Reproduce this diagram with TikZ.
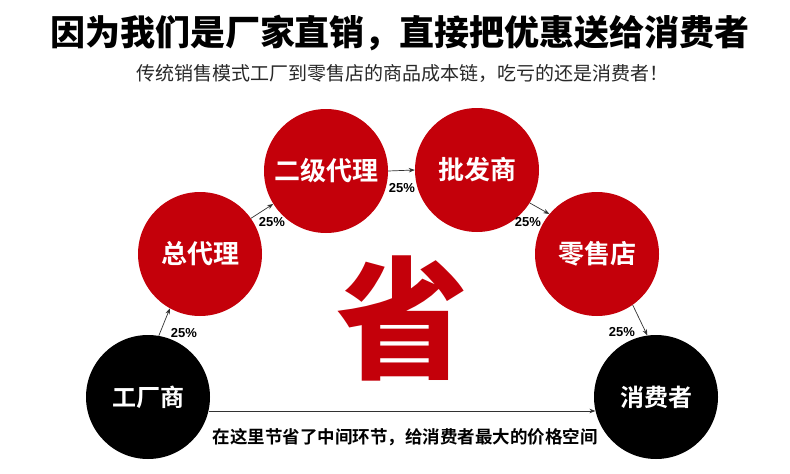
\documentclass[tikz,border=0pt]{standalone}
\usepackage{fontspec}
\usetikzlibrary{arrows.meta}
\setmainfont{Liberation Sans}
\newfontfamily\cjk{Noto Sans CJK SC}
\newfontfamily\cjkbold{Noto Sans CJK SC Bold}
\newfontfamily\cjkblack{Noto Sans CJK SC Black}
\definecolor{circred}{RGB}{196,0,10}
\definecolor{subgray}{RGB}{40,40,40}
\definecolor{arrgray}{RGB}{50,50,50}
\tikzset{
  redc/.style={circle,fill=circred,minimum size=124pt,inner sep=0pt,text=white,font=\cjkbold\fontsize{26}{26}\selectfont},
  blackc/.style={circle,fill=black,minimum size=124pt,inner sep=0pt,text=white,font=\cjkbold\fontsize{24}{24}\selectfont},
  conn/.style={draw=arrgray,line width=0.7pt,-{Stealth[length=6pt,width=4.5pt]}},
  pct/.style={font=\bfseries\fontsize{13}{13}\selectfont,inner sep=0pt}
}
\begin{document}
\begin{tikzpicture}[x=1pt,y=-1pt]
\path[use as bounding box,fill=white] (0,0) rectangle (790,474);
% titles
\node[font=\cjkblack\fontsize{35}{35}\selectfont,inner sep=0pt] (title) at (400,33) {因为我们是厂家直销，直接把优惠送给消费者};
\node[font=\cjk\fontsize{19}{19}\selectfont,text=subgray,inner sep=0pt] (sub) at (402,73) {传统销售模式工厂到零售店的商品成本链，吃亏的还是消费者！};
% big character
\node[font=\cjkblack\fontsize{132}{132}\selectfont,text=circred,inner sep=0pt] (sheng) at (402,318) {省};
% circles
\node[blackc] (gc) at (148,397) {工厂商};
\node[redc] (zdl) at (200,254) {总代理};
\node[redc] (ejdl) at (326,171) {二级代理};
\node[redc] (pfs) at (477,170) {批发商};
\node[redc] (lsd) at (597,254) {零售店};
\node[blackc] (xfz) at (656,397) {消费者};
% connectors
\draw[conn] (gc.80) -- (zdl.241);
\draw[conn] (zdl.35) -- (ejdl.212);
\draw[conn] (ejdl.east) -- (pfs.west);
\draw[conn] (pfs.328) -- (lsd.140);
\draw[conn] (lsd.305) -- (xfz.98);
\draw[conn] (gc.-13) -- (xfz.193);
% labels
\node[pct] (p1) at (184,333) {25\%};
\node[pct] (p2) at (272,222) {25\%};
\node[pct] (p3) at (402,188) {25\%};
\node[pct] (p4) at (528,222) {25\%};
\node[pct] (p5) at (622,332) {25\%};
\node[font=\cjkbold\fontsize{17.5}{17.5}\selectfont,inner sep=0pt] (bottom) at (405,437) {在这里节省了中间环节，给消费者最大的价格空间};
\end{tikzpicture}
\end{document}
